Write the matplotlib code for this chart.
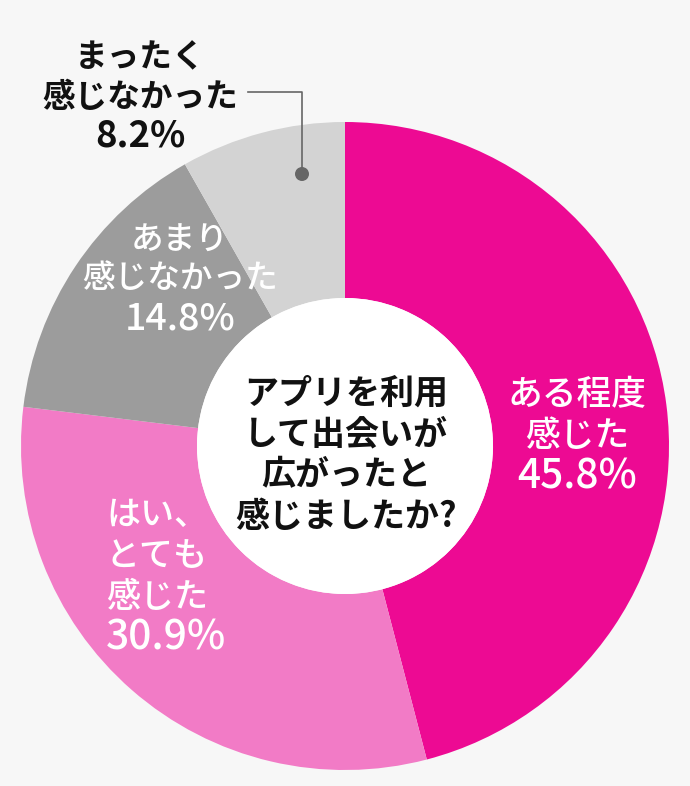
import matplotlib
matplotlib.use("Agg")
import matplotlib.pyplot as plt
from matplotlib.patches import Circle

plt.rcParams['font.family'] = ['Noto Sans CJK JP', 'DejaVu Sans']

# data
answers = ["ある程度\n感じた", "はい、\nとても\n感じた", "あまり\n感じなかった", "まったく\n感じなかった"]
shares = [45.8, 30.9, 14.8, 8.2]
question = "アプリを利用\nして出会いが\n広がったと\n感じましたか?"

colors = ["#ED0A93", "#F27BC6", "#9C9C9C", "#D3D3D3"]
bg = "#F7F7F7"

W, H = 690, 786
fig = plt.figure(figsize=(W / 100, H / 100), dpi=100, facecolor=bg)
ax = fig.add_axes([0, 0, 1, 1])
ax.set_facecolor(bg)


def Y(y):
    # pixel row -> data y
    return H - y


cx, cy, r_out, r_in = 345, 446, 324, 148
ax.pie(shares, colors=colors, startangle=90, counterclock=False,
       center=(cx, Y(cy)), radius=r_out,
       wedgeprops=dict(width=r_out - r_in, linewidth=0))
ax.add_patch(Circle((cx, Y(cy)), r_in, facecolor="white", edgecolor="none", zorder=3))


def put_lines(text, x, y0, step, size, color, weight, ha="center", pct=1.0):
    lines = text.split("\n")
    for i, line in enumerate(lines):
        fs = size * pct if line.endswith("%") else size
        ax.text(x, Y(y0 + i * step), line, ha=ha, va="center", fontsize=fs,
                color=color, fontweight=weight, zorder=5)


def label(i):
    return answers[i] + "\n" + f"{shares[i]}%"


# center question
put_lines(question, 346, 393, 41, 24.5, "#111111", "bold")

# slice labels
put_lines(label(0), 577, 395, 41, 25, "white", "medium", pct=1.17)
put_lines(label(1), 106, 515, 41, 24.5, "white", "medium", ha="left", pct=1.2)
put_lines(label(2), 180, 240, 39, 23.5, "white", "medium", pct=1.15)
put_lines(label(3), 140, 58, 39, 23.5, "#111111", "bold", pct=1.12)

# leader for the small slice
ax.plot([248, 302, 302], [Y(92), Y(92), Y(174)], color="#666666", lw=1.2, zorder=6)
ax.add_patch(Circle((302, Y(174)), 7, facecolor="#666666", edgecolor="none", zorder=6))

ax.set_xlim(0, W)
ax.set_ylim(0, H)
ax.set_aspect("equal")
ax.axis("off")

fig.savefig("out.png", dpi=100, facecolor=bg)
